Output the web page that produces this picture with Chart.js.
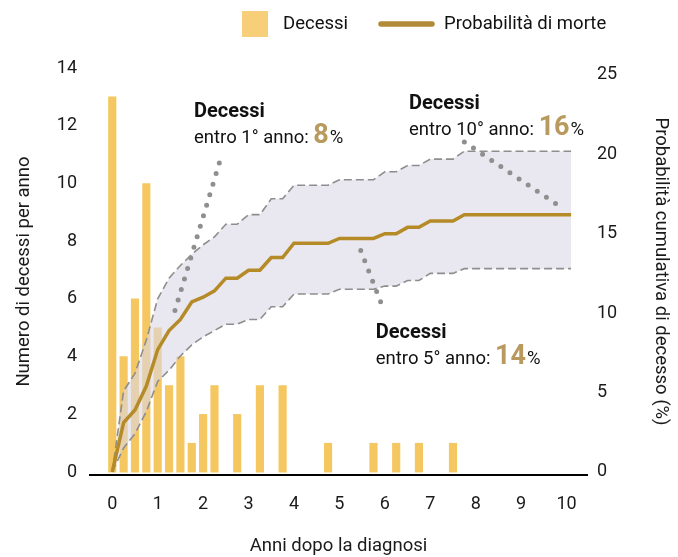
<!DOCTYPE html>
<html lang="it">
<head>
<meta charset="utf-8">
<title>Decessi e probabilità di morte</title>
<script src="https://cdn.jsdelivr.net/npm/chart.js@4.4.1/dist/chart.umd.min.js"></script>
<style>
  body { margin: 0; background: #fff; }
  #wrap { width: 678px; height: 557px; }
</style>
</head>
<body>
<div id="wrap"><canvas id="deathChart"></canvas></div>
<script>
// Data
const deathYears = [0, 0.25, 0.5, 0.75, 1, 1.25, 1.5, 1.75, 2, 2.25, 2.75, 3.25, 3.75, 4.75, 5.75, 6.25, 6.75, 7.5];
const deaths     = [13, 4, 6, 10, 5, 3, 4, 1, 2, 3, 2, 3, 3, 1, 1, 1, 1, 1];

const probYears = [0, 0.25, 0.5, 0.75, 1, 1.25, 1.5, 1.75, 2, 2.25, 2.5, 2.75, 3, 3.25, 3.5, 3.75,
                   4, 4.25, 4.5, 4.75, 5, 5.25, 5.5, 5.75, 6, 6.25, 6.5, 6.75, 7, 7.25, 7.5, 7.75, 10.1];
const probDeath = [0, 3.1, 3.9, 5.4, 7.7, 8.9, 9.6, 10.7, 11.0, 11.4, 12.2, 12.2, 12.7, 12.7, 13.5, 13.5,
                   14.4, 14.4, 14.4, 14.4, 14.7, 14.7, 14.7, 14.7, 15.0, 15.0, 15.4, 15.4, 15.8, 15.8, 15.8, 16.2, 16.2];
const probUpper = [0, 5.1, 6.2, 8.3, 10.9, 12.2, 13.0, 13.7, 14.3, 14.8, 15.6, 15.6, 16.2, 16.2, 17.2, 17.2,
                   18.05, 18.05, 18.05, 18.05, 18.4, 18.4, 18.4, 18.4, 18.9, 18.9, 19.3, 19.3, 19.7, 19.7, 19.7, 20.2, 20.2];
const probLower = [0, 1.5, 2.4, 3.8, 5.7, 6.4, 7.3, 8.0, 8.5, 8.9, 9.3, 9.3, 9.6, 9.6, 10.4, 10.4,
                   11.2, 11.2, 11.2, 11.2, 11.5, 11.5, 11.5, 11.5, 11.7, 11.7, 12.05, 12.05, 12.5, 12.5, 12.5, 12.8, 12.8];

// callouts: year reached and cumulative % of deaths
const calloutYears = ['1°', '10°', '5°'];
const calloutPct   = ['8', '16', '14'];

const BAR = '#f5c760';
const GOLD = '#b58b28';
const GOLD_TEXT = '#b99a5e';
const FONT = 'Roboto';

Chart.defaults.font.family = FONT;
Chart.defaults.color = '#1a1a1a';

const toPoints = (xs, ys) => xs.map((x, i) => ({ x: x, y: ys[i] }));

// callouts, dotted leaders and legend
const extras = {
  id: 'extras',
  afterDatasetsDraw(chart) {
    const { ctx, scales: { x, y2 } } = chart;
    const px = v => x.getPixelForValue(v);
    const py = v => y2.getPixelForValue(v);

    ctx.save();
    // dotted leaders [x1, y1, x2, y2] in data units
    const leaders = [[1.38, 10.16, 2.42, 20.06], [7.75, 20.78, 9.91, 16.61], [5.47, 13.94, 5.99, 10.09]];
    ctx.strokeStyle = '#8f8f8f';
    ctx.lineWidth = 5;
    ctx.lineCap = 'round';
    ctx.setLineDash([0, 11]);
    leaders.forEach(l => {
      ctx.beginPath();
      ctx.moveTo(px(l[0]), py(l[1]));
      ctx.lineTo(px(l[2]), py(l[3]));
      ctx.stroke();
    });
    ctx.setLineDash([]);

    // text anchors (left, baseline) in data units
    const anchors = [[1.8, 22.37], [6.53, 22.88], [5.8, 8.45]];
    ctx.textBaseline = 'alphabetic';
    ctx.textAlign = 'left';
    anchors.forEach((a, i) => {
      const left = px(a[0]);
      const base = py(a[1]);
      ctx.fillStyle = '#111';
      ctx.font = 'bold 20px ' + FONT;
      ctx.fillText('Decessi', left, base);

      let cx = left;
      const base2 = base + 26;
      ctx.font = '18.5px ' + FONT;
      const lead = 'entro ' + calloutYears[i] + ' anno: ';
      ctx.fillText(lead, cx, base2);
      cx += ctx.measureText(lead).width;
      ctx.font = 'bold 27px ' + FONT;
      ctx.fillStyle = GOLD_TEXT;
      ctx.fillText(calloutPct[i], cx, base2);
      cx += ctx.measureText(calloutPct[i]).width + 1;
      ctx.font = '18.5px ' + FONT;
      ctx.fillStyle = '#111';
      ctx.fillText('%', cx, base2);
    });

    // legend
    ctx.fillStyle = '#f6cf78';
    ctx.fillRect(242, 11, 26, 26);
    ctx.strokeStyle = '#b08a38';
    ctx.lineWidth = 5.5;
    ctx.beginPath();
    ctx.moveTo(381, 24);
    ctx.lineTo(432, 24);
    ctx.stroke();
    ctx.fillStyle = '#111';
    ctx.font = '18.5px ' + FONT;
    ctx.textBaseline = 'middle';
    ctx.fillText('Decessi', 283, 24);
    ctx.fillText('Probabilità di morte', 444, 24);
    ctx.restore();
  }
};

// Chart
const ctx = document.getElementById('deathChart').getContext('2d');
new Chart(ctx, {
  type: 'bar',
  data: {
    datasets: [{
      type: 'bar',
      label: 'Decessi',
      data: toPoints(deathYears, deaths),
      backgroundColor: BAR,
      barThickness: 7.5,
      yAxisID: 'y',
      order: 3
    }, {
      type: 'line',
      label: 'Probabilità di morte',
      data: toPoints(probYears, probDeath),
      borderColor: GOLD,
      borderWidth: 3.5,
      pointRadius: 0,
      tension: 0,
      yAxisID: 'y2',
      order: 0
    }, {
      type: 'line',
      label: 'upper',
      data: toPoints(probYears, probUpper),
      borderColor: '#8e8e8e',
      borderWidth: 1.6,
      borderDash: [8, 4],
      pointRadius: 0,
      tension: 0,
      fill: '+1',
      backgroundColor: 'rgba(218,215,228,0.6)',
      yAxisID: 'y2',
      order: 2
    }, {
      type: 'line',
      label: 'lower',
      data: toPoints(probYears, probLower),
      borderColor: '#8e8e8e',
      borderWidth: 1.6,
      borderDash: [8, 4],
      pointRadius: 0,
      tension: 0,
      fill: false,
      yAxisID: 'y2',
      order: 1
    }]
  },
  options: {
    responsive: true,
    maintainAspectRatio: false,
    animation: false,
    layout: { padding: { top: 68, left: 0, right: 0, bottom: 0 } },
    plugins: {
      legend: { display: false },
      tooltip: { enabled: false }
    },
    scales: {
      x: {
        type: 'linear',
        min: -0.49,
        max: 10.45,
        offset: false,
        grid: { display: false, drawTicks: false },
        border: { display: true, color: '#000', width: 2 },
        ticks: { stepSize: 1, includeBounds: false, padding: 19, font: { size: 18 } },
        title: { display: true, text: 'Anni dopo la diagnosi', font: { size: 18.5 }, padding: { top: 0, bottom: 0 } },
        afterFit: s => { s.height = 82; }
      },
      y: {
        position: 'left',
        min: -0.1,
        max: 14,
        grid: { display: false, drawTicks: false },
        border: { display: false },
        ticks: { stepSize: 2, includeBounds: false, padding: 13, font: { size: 18 } },
        title: { display: true, text: 'Numero di decessi per anno', font: { size: 18.5 }, padding: { top: 13, bottom: 0 } },
        afterFit: s => { s.width = 90; }
      },
      y2: {
        position: 'right',
        min: -0.2,
        max: 25.44,
        grid: { display: false, drawTicks: false },
        border: { display: false },
        ticks: { stepSize: 5, includeBounds: false, padding: 10, font: { size: 18 } },
        title: { display: true, text: 'Probabilità cumulativa di decesso (%)', font: { size: 18.5 }, padding: { top: 6, bottom: 0 } },
        afterFit: s => { s.width = 91; }
      }
    }
  },
  plugins: [extras]
});
</script>
</body>
</html>
